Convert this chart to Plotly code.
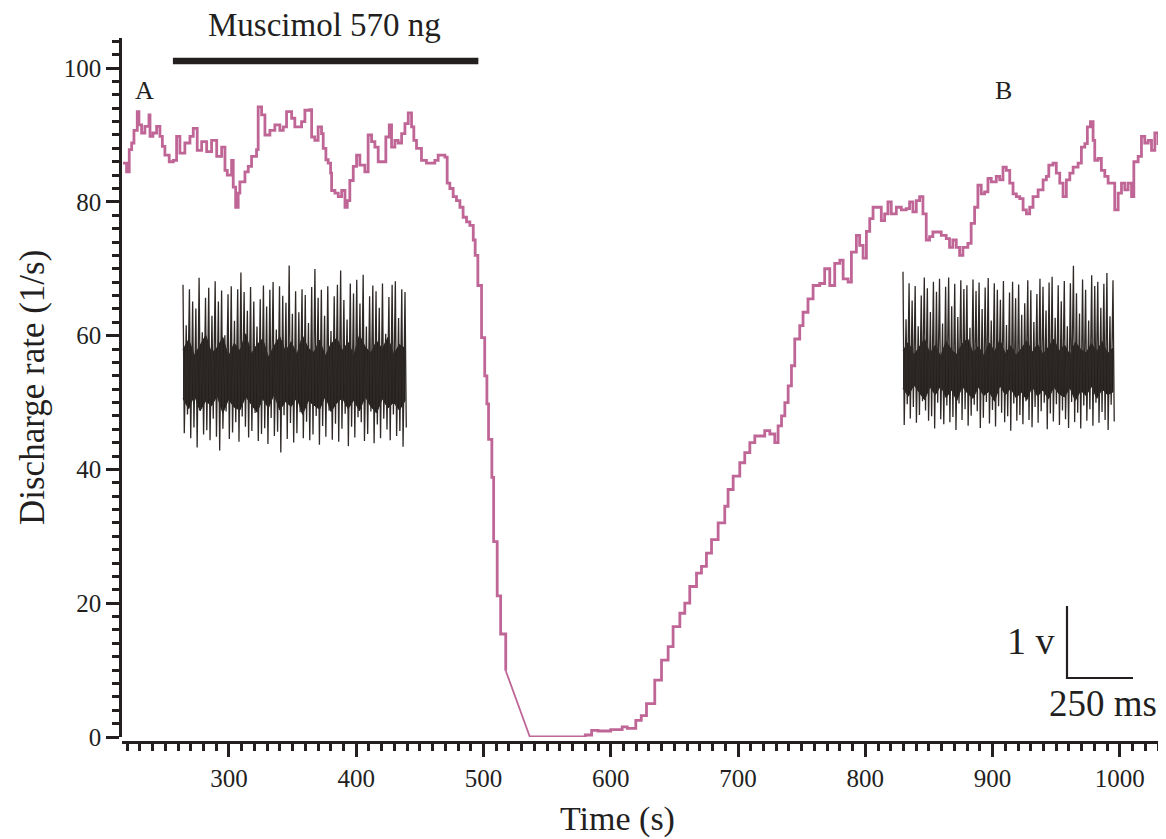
import plotly.graph_objects as go

# ---------------- data ----------------
time_s = [216.8, 219.6, 221.7, 223.6, 225.4, 228.0, 229.3, 231.4, 234.0, 237.2, 238.0, 240.3,
          243.2, 245.8, 247.7, 249.7, 253.1, 256.3, 258.9, 261.5, 265.4, 269.4, 272.0, 275.1,
          278.6, 282.5, 286.4, 290.4, 294.3, 296.9, 298.7, 302.1, 303.4, 305.3, 307.3, 308.6,
          312.6, 315.2, 317.8, 321.7, 323.0, 325.7, 328.3, 332.2, 336.1, 340.0, 342.7, 345.3,
          349.3, 351.8, 357.1, 359.7, 363.6, 365.0, 367.5, 370.1, 372.8, 374.1, 376.2, 378.0,
          379.9, 380.7, 383.3, 385.9, 388.6, 391.2, 393.0, 395.0, 397.7, 400.3, 402.9, 406.8,
          409.4, 412.1, 414.7, 417.3, 421.2, 423.3, 426.0, 427.8, 430.4, 433.0, 435.7, 438.3,
          440.9, 443.5, 445.3, 447.4, 451.3, 455.2, 459.1, 461.8, 464.4, 467.0, 469.7, 471.5,
          473.6, 476.2, 478.8, 481.5, 484.0, 486.7, 489.3, 492.0, 493.5, 495.6, 498.5, 501.0,
          502.7, 504.0, 506.6, 508.0, 510.8, 513.5, 517.5,
          536.5, 577.7, 580.0, 585.0, 590.0, 600.0, 609.0, 613.0, 619.7, 624.0, 628.1, 634.6,
          639.9, 645.1, 649.0, 654.3, 658.2, 662.1, 667.4, 671.3, 675.2, 679.2, 684.4, 689.6,
          692.2, 696.2, 701.4, 705.3, 709.3, 713.2, 717.1, 721.0, 725.0, 728.9, 731.5, 734.2,
          736.8, 739.4, 742.0, 744.6, 748.5, 751.1, 755.0, 759.0, 764.2, 768.1, 772.1, 776.0,
          780.0, 782.6, 786.5, 789.1, 793.0, 795.6, 798.3, 800.9, 803.5, 806.1, 810.0, 812.6,
          815.2, 817.8, 820.4, 824.4, 828.3, 832.2, 834.8, 837.4, 840.1, 842.7, 845.3, 847.9,
          850.5, 853.1, 857.1, 859.7, 863.6, 866.2, 868.8, 871.5, 874.1, 876.7, 880.6, 883.2,
          885.9, 888.5, 891.1, 893.8, 896.4, 899.0, 902.9, 905.6, 908.2, 910.8, 913.5, 916.1,
          918.7, 921.4, 924.0, 926.6, 929.2, 931.8, 935.8, 939.7, 942.3, 944.2, 947.5, 950.1,
          952.8, 955.4, 958.0, 960.7, 963.3, 967.2, 969.8, 972.5, 974.5, 976.9, 979.0, 980.3,
          982.9, 985.5, 988.2, 990.8, 993.4, 996.0, 998.7, 1001.3, 1003.9, 1006.5, 1009.2, 1011.0,
          1014.4, 1017.0, 1019.6, 1022.3, 1024.9, 1027.5, 1030.0]
rate_hz = [85.8, 84.5, 87.8, 88.8, 90.7, 93.5, 91.5, 90.3, 91.3, 93.0, 89.8, 90.3,
           91.3, 89.8, 88.3, 87.0, 86.0, 86.2, 89.8, 87.3, 88.8, 89.8, 91.0, 87.7,
           89.0, 87.5, 89.2, 86.8, 88.2, 84.7, 84.0, 86.2, 82.2, 79.2, 81.3, 83.0,
           84.5, 85.3, 86.8, 87.8, 94.2, 93.0, 90.0, 90.7, 91.5, 90.7, 91.2, 93.5,
           92.5, 91.2, 92.0, 93.7, 93.8, 89.7, 89.2, 91.2, 90.2, 88.0, 86.3, 85.8,
           84.3, 81.7, 81.3, 80.8, 81.7, 79.2, 80.2, 83.2, 85.3, 87.0, 85.5, 84.5,
           90.0, 89.0, 88.2, 86.0, 86.0, 89.7, 91.5, 88.2, 89.2, 88.8, 90.2, 91.7,
           93.3, 91.2, 89.2, 88.0, 86.2, 85.8, 85.8, 86.2, 87.0, 87.0, 86.7, 82.8,
           82.0, 80.8, 80.2, 79.2, 77.7, 77.0, 76.5, 74.3, 72.0, 67.5, 59.7, 54.0,
           49.8, 44.5, 38.8, 29.2, 21.1, 15.4, 9.9,
           0.0, 0.0, 0.3, 1.0, 0.9, 1.1, 1.5, 1.3, 2.5, 3.2, 5.0, 8.5,
           11.5, 13.5, 16.5, 18.5, 20.0, 22.5, 24.5, 25.5, 27.5, 29.5, 32.0, 34.5,
           37.0, 39.0, 41.0, 42.5, 44.0, 45.0, 45.0, 45.8, 45.3, 44.0, 46.5, 48.0,
           50.0, 52.5, 55.5, 59.5, 61.5, 63.5, 65.5, 67.5, 67.8, 70.0, 67.5, 70.8,
           71.3, 68.5, 68.0, 72.5, 75.0, 73.5, 71.6, 75.6, 77.5, 79.2, 79.2, 77.2,
           78.2, 80.0, 78.2, 79.2, 78.8, 79.0, 80.0, 78.5, 80.2, 80.8, 78.2, 74.3,
           74.8, 75.5, 75.5, 75.0, 74.5, 73.2, 74.3, 73.2, 72.0, 73.2, 73.8, 76.8,
           79.2, 82.5, 81.2, 81.5, 83.5, 83.0, 83.8, 83.3, 85.2, 84.7, 82.8, 81.2,
           80.8, 80.5, 78.8, 78.2, 79.2, 80.8, 81.8, 83.3, 83.8, 85.5, 85.8, 84.3,
           82.8, 80.8, 83.3, 84.3, 85.2, 85.8, 88.2, 88.7, 91.2, 92.0, 89.2, 86.2,
           86.5, 84.7, 83.8, 82.8, 82.8, 78.8, 81.3, 82.8, 81.8, 82.8, 80.8, 86.0,
           86.8, 89.8, 88.8, 89.2, 87.7, 90.3, 88.5]

muscimol_on_s = 256
muscimol_off_s = 496
muscimol_label = "Muscimol 570 ng"

x_ticks = [300, 400, 500, 600, 700, 800, 900, 1000]
y_ticks = [0, 20, 40, 60, 80, 100]

# example extracellular recordings (volts): spike peaks and troughs, and noise envelope
spike_a_top = [1.28, 0.72, 1.22, 1.05, 0.95, 1.38, 0.62, 1.10, 1.24, 0.85, 1.33, 1.05, 1.20, 0.58,
               1.15, 1.26, 0.78, 1.22, 1.45, 1.18, 0.92, 1.25, 1.05, 0.70, 1.08, 1.27, 0.98, 1.21,
               1.32, 0.66, 1.26, 1.13, 1.03, 1.55, 0.88, 1.19, 0.90, 1.22, 1.14, 0.75, 1.25, 1.50,
               1.10, 1.21, 0.85, 1.26, 0.64, 1.12, 1.28, 1.48, 1.07, 0.80, 1.30, 1.16, 1.35, 1.02,
               1.42, 0.70, 1.12, 1.27, 1.19, 0.96, 1.30, 0.60, 1.11, 1.28, 1.33, 0.82, 1.22, 1.18]
spike_a_bot = [-0.78, -0.52, -0.85, -0.70, -0.98, -0.46, -0.80, -0.74, -0.88, -0.58, -0.83, -1.02,
               -0.72, -0.48, -0.86, -0.77, -0.63, -0.90, -0.55, -0.69, -0.84, -0.75, -0.50, -0.89,
               -0.79, -0.71, -0.93, -0.57, -0.82, -0.76, -1.05, -0.53, -0.86, -0.64, -0.91, -0.78,
               -0.49, -0.85, -0.62, -0.88, -0.80, -0.54, -0.94, -0.68, -0.83, -0.47, -0.87, -0.65,
               -0.90, -0.72, -0.51, -0.96, -0.69, -0.84, -0.56, -0.63, -0.89, -0.79, -0.48, -0.92,
               -0.66, -0.85, -0.58, -0.73, -0.88, -0.52, -0.82, -0.75, -0.97, -0.70]
band_a_hi = [0.38, 0.52, 0.30, 0.44, 0.58, 0.33, 0.41, 0.55, 0.28, 0.47, 0.36, 0.60, 0.32, 0.45,
             0.53, 0.27, 0.43, 0.56, 0.35, 0.49, 0.31, 0.57, 0.40, 0.34, 0.51, 0.29, 0.46, 0.54,
             0.37, 0.48, 0.30, 0.58, 0.42, 0.33, 0.50, 0.39, 0.55, 0.31, 0.45, 0.40]
band_a_lo = [-0.30, -0.44, -0.25, -0.47, -0.33, -0.40, -0.26, -0.50, -0.31, -0.42, -0.46, -0.27,
             -0.38, -0.49, -0.30, -0.43, -0.24, -0.46, -0.34, -0.41, -0.28, -0.52, -0.33, -0.39,
             -0.45, -0.26, -0.48, -0.36, -0.29, -0.44, -0.32, -0.47, -0.27, -0.41, -0.50, -0.30,
             -0.43, -0.35, -0.46, -0.33]

spike_b_top = [1.38, 0.72, 1.22, 0.98, 1.18, 0.62, 1.05, 1.30, 1.15, 0.82, 1.24, 1.10, 1.28, 0.66,
               1.17, 1.30, 0.90, 1.21, 0.75, 1.26, 1.14, 1.19, 0.60, 1.27, 1.11, 1.23, 0.86, 1.16,
               1.29, 0.70, 1.22, 1.13, 0.99, 1.25, 0.64, 1.09, 1.24, 1.01, 1.20, 0.78, 0.94, 1.26,
               1.12, 0.68, 1.07, 1.28, 1.17, 0.84, 1.23, 1.31, 0.74, 1.19, 0.97, 1.25, 0.62, 1.22,
               1.46, 1.08, 0.80, 1.27, 1.13, 0.70, 1.33, 1.18, 1.24, 0.88, 1.21, 1.36, 0.76, 1.26]
spike_b_bot = [-0.75, -0.46, -0.66, -0.50, -0.72, -0.61, -0.42, -0.55, -0.69, -0.63, -0.80, -0.44,
               -0.67, -0.74, -0.48, -0.71, -0.64, -0.82, -0.45, -0.68, -0.53, -0.76, -0.62, -0.47,
               -0.56, -0.79, -0.65, -0.43, -0.73, -0.54, -0.77, -0.49, -0.58, -0.71, -0.63, -0.83,
               -0.45, -0.69, -0.61, -0.74, -0.42, -0.68, -0.78, -0.50, -0.72, -0.56, -0.44, -0.81,
               -0.59, -0.70, -0.46, -0.75, -0.55, -0.67, -0.79, -0.43, -0.71, -0.58, -0.80, -0.48,
               -0.69, -0.53, -0.76, -0.44, -0.72, -0.57, -0.68, -0.82, -0.47, -0.70]
band_b_hi = [0.28, 0.40, 0.22, 0.33, 0.44, 0.24, 0.36, 0.20, 0.41, 0.29, 0.23, 0.38, 0.45, 0.25,
             0.34, 0.21, 0.39, 0.27, 0.43, 0.24, 0.35, 0.22, 0.31, 0.42, 0.26, 0.37, 0.23, 0.33,
             0.44, 0.28, 0.36, 0.22, 0.40, 0.30, 0.25, 0.38, 0.27, 0.41, 0.24, 0.32]
band_b_lo = [-0.24, -0.35, -0.19, -0.30, -0.40, -0.22, -0.33, -0.20, -0.37, -0.26, -0.41, -0.21,
             -0.31, -0.38, -0.22, -0.34, -0.28, -0.42, -0.20, -0.33, -0.24, -0.37, -0.29, -0.40,
             -0.21, -0.35, -0.26, -0.39, -0.22, -0.32, -0.36, -0.23, -0.41, -0.27, -0.34, -0.21,
             -0.38, -0.25, -0.33, -0.29]

scale_bar_ms = 250
scale_bar_v = 1

# ---------------- geometry (page pixels; the page body adds an 8 px offset) ----------------
WIN_W, WIN_H = 1166, 839
OFF = 8
W, H = WIN_W - OFF, WIN_H - OFF
PAGE_L, PAGE_R, PAGE_T, PAGE_B = 122, 1158, 38, 742
ML, MT = PAGE_L - OFF, PAGE_T - OFF
MR = W - (PAGE_R - OFF)
MB = H - (PAGE_B - OFF)
PW, PH = W - ML - MR, H - MT - MB
Y_DOM0 = 5 / PH
PX_PER_MS = 66 / 250
PX_PER_V = 72
X2_MAX = PW / PX_PER_MS
Y2_MAX = PH * (1 - Y_DOM0) / PX_PER_V
Y2_ZERO_PAGE = PAGE_B - Y_DOM0 * PH

INK = "#231f1e"
PINK = "#bf6697"
FONT = "Liberation Serif, Times New Roman, serif"


def px_to_paper(px, py):
    return (px - PAGE_L) / PW, (PAGE_B - py) / PH


def x2_of(px):
    return (px - PAGE_L) / PX_PER_MS


def y2_of(py):
    return (Y2_ZERO_PAGE - py) / PX_PER_V


def inset_traces(top, bot, hi, lo, x0_px, x1_px, cy_px):
    x0, x1, cy = x2_of(x0_px), x2_of(x1_px), y2_of(cy_px)
    n = len(top)
    dt = (x1 - x0) / (n - 1)
    xs, ys = [], []
    for i in range(n):
        t = x0 + i * dt
        xs += [t, t + dt * 0.4]
        ys += [cy + top[i], cy + bot[i]]
    m = len(hi)
    db = (x1 - x0) / (m - 1)
    bx = [x0 + j * db for j in range(m)]
    band_x = bx + bx[::-1]
    band_y = [cy + v for v in hi] + [cy + v for v in lo][::-1]
    band = go.Scatter(x=band_x, y=band_y, fill="toself", fillcolor=INK, mode="lines",
                      line=dict(color=INK, width=1), xaxis="x2", yaxis="y2",
                      hoverinfo="skip", showlegend=False)
    spikes = go.Scatter(x=xs, y=ys, mode="lines", line=dict(color="#2e2926", width=1.3),
                        xaxis="x2", yaxis="y2", hoverinfo="skip", showlegend=False)
    return [band, spikes]


fig = go.Figure()

# main trace: stepped before the drop, straight across the gap, stepped afterwards
i_gap0 = time_s.index(517.5)
i_gap1 = time_s.index(536.5)
fig.add_trace(go.Scatter(x=time_s[:i_gap0 + 1], y=rate_hz[:i_gap0 + 1], mode="lines",
                         line=dict(color=PINK, width=2.8, shape="hv"), showlegend=False))
fig.add_trace(go.Scatter(x=time_s[i_gap0:i_gap1 + 1], y=rate_hz[i_gap0:i_gap1 + 1], mode="lines",
                         line=dict(color=PINK, width=1.8), showlegend=False))
fig.add_trace(go.Scatter(x=time_s[i_gap1:], y=rate_hz[i_gap1:], mode="lines",
                         line=dict(color=PINK, width=2.8, shape="hv"), showlegend=False))

# insets
for tr in inset_traces(spike_a_top, spike_a_bot, band_a_hi, band_a_lo, 183, 405, 377):
    fig.add_trace(tr)
for tr in inset_traces(spike_b_top, spike_b_bot, band_b_hi, band_b_lo, 903, 1113, 371):
    fig.add_trace(tr)

# scale bar
sb_x0 = x2_of(1067)
sb_y0 = y2_of(678)
fig.add_trace(go.Scatter(x=[sb_x0, sb_x0, sb_x0 + scale_bar_ms],
                         y=[sb_y0 + scale_bar_v, sb_y0, sb_y0],
                         mode="lines", line=dict(color=INK, width=2.2),
                         xaxis="x2", yaxis="y2", hoverinfo="skip", showlegend=False))

# muscimol bar
bar_y = px_to_paper(0, 61)[1]
fig.add_shape(type="line", xref="x", yref="paper", x0=muscimol_on_s, x1=muscimol_off_s,
              y0=bar_y, y1=bar_y, line=dict(color=INK, width=6.5))

annots = [
    (muscimol_label, 324, 25, 33),
    ("A", 144, 90, 26),
    ("B", 1003, 90, 26),
    ("Time (s)", 617, 819, 34),
    ("1 v", 1031, 641, 38),
    ("250 ms", 1103, 703, 37),
]
for txt, px, py, fs in annots:
    ax_, ay_ = px_to_paper(px, py)
    fig.add_annotation(text=txt, x=ax_, y=ay_, xref="paper", yref="paper", showarrow=False,
                       xanchor="center", yanchor="middle", font=dict(family=FONT, size=fs, color=INK))
ax_, ay_ = px_to_paper(32, 388)
fig.add_annotation(text="Discharge rate (1/s)", x=ax_, y=ay_, xref="paper", yref="paper",
                   showarrow=False, textangle=-90, xanchor="center", yanchor="middle",
                   font=dict(family=FONT, size=35, color=INK))

fig.update_layout(
    width=W, height=H, autosize=False,
    margin=dict(l=ML, r=MR, t=MT, b=MB, pad=0),
    paper_bgcolor="white", plot_bgcolor="white",
    font=dict(family=FONT, color=INK, size=24),
    xaxis=dict(range=[216, 1030], anchor="free", position=0, domain=[0, 1], automargin=False,
               tickmode="array", tickvals=x_ticks, ticktext=[str(v) for v in x_ticks],
               showline=True, linecolor=INK, linewidth=2.5, ticks="outside", ticklen=13,
               tickwidth=2.5, tickcolor=INK, showgrid=False, zeroline=False,
               tickfont=dict(family=FONT, size=25, color=INK),
               minor=dict(dtick=10, tick0=0, ticklen=7, tickwidth=2.5, tickcolor=INK,
                          ticks="outside", showgrid=False)),
    yaxis=dict(range=[0, 104.5], domain=[Y_DOM0, 1], anchor="x", automargin=False,
               tickmode="array", tickvals=y_ticks, ticktext=[str(v) for v in y_ticks],
               showline=True, linecolor=INK, linewidth=2.5, ticks="outside", ticklen=13,
               tickwidth=2.5, tickcolor=INK, showgrid=False, zeroline=False,
               tickfont=dict(family=FONT, size=25, color=INK),
               minor=dict(dtick=2, tick0=0, ticklen=7, tickwidth=2.5, tickcolor=INK,
                          ticks="outside", showgrid=False)),
    xaxis2=dict(range=[0, X2_MAX], overlaying="x", anchor="y2", visible=False),
    yaxis2=dict(range=[0, Y2_MAX], overlaying="y", anchor="x2", visible=False),
)

fig.write_html("out.html")
